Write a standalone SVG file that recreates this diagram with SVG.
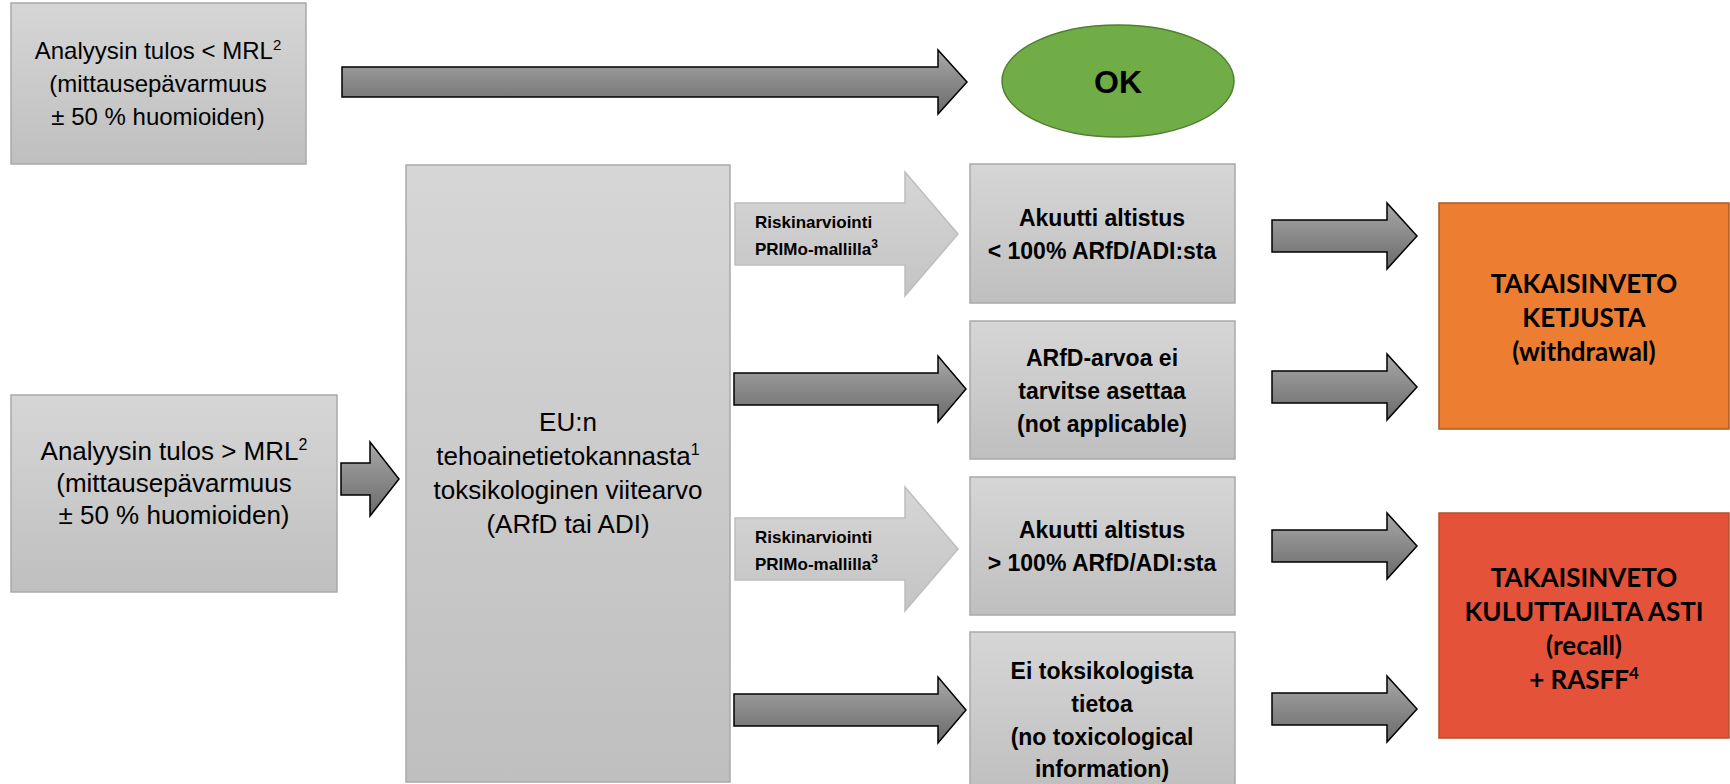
<svg xmlns="http://www.w3.org/2000/svg" width="1730" height="784" viewBox="0 0 1730 784">
<defs>
<linearGradient id="gBox" x1="0" y1="0" x2="0" y2="1"><stop offset="0" stop-color="#d6d6d6"/><stop offset="1" stop-color="#bfbfbf"/></linearGradient>
<linearGradient id="gDark" x1="0" y1="0" x2="0" y2="1"><stop offset="0" stop-color="#a8a8a8"/><stop offset="1" stop-color="#6a6a6a"/></linearGradient>
<linearGradient id="gLight" x1="0" y1="0" x2="0" y2="1"><stop offset="0" stop-color="#d6d6d6"/><stop offset="1" stop-color="#c4c4c4"/></linearGradient>
<style>
.box{fill:url(#gBox);stroke:#a9a9a9;stroke-width:1.5}
.dark{fill:url(#gDark);stroke:#000;stroke-width:1.5;stroke-linejoin:miter}
.light{fill:url(#gLight);stroke:#bdbdbd;stroke-width:1.5}
.reg{font-family:"Liberation Sans",Arial,sans-serif;font-size:26px;fill:#000;text-anchor:middle}
.bold{font-family:"Liberation Sans",Arial,sans-serif;font-size:23px;font-weight:bold;fill:#000;text-anchor:middle}
.lbl{font-family:"Liberation Sans",Arial,sans-serif;font-size:17px;font-weight:bold;fill:#000}
.big{font-family:Lato,"Liberation Sans",sans-serif;font-size:26px;font-weight:bold;fill:#000;text-anchor:middle}
.ok{font-family:"Liberation Sans",Arial,sans-serif;font-size:32px;font-weight:bold;fill:#000;text-anchor:middle}
</style>
</defs>
<rect width="1730" height="784" fill="#fff"/>

<g id="connectors">
<path class="dark" d="M342,67 L938,67 L938,50 L967,82 L938,114 L938,97 L342,97 Z"/>
<path class="dark" d="M341,463 L370,463 L370,442 L399,479 L370,516 L370,495 L341,495 Z"/>
<g id="c-risk1">
<path class="light" d="M735,203 L905,203 L905,172 L958,234 L905,296 L905,265 L735,265 Z"/>
<text class="lbl" x="755" y="228">Riskinarviointi</text>
<text class="lbl" x="755" y="255">PRIMo-mallilla<tspan font-size="12" dy="-7">3</tspan></text>
</g>
<path class="dark" d="M734,373 L938,373 L938,356 L966,389 L938,422 L938,405 L734,405 Z"/>
<g id="c-risk2">
<path class="light" d="M735,518 L905,518 L905,487 L958,549 L905,611 L905,580 L735,580 Z"/>
<text class="lbl" x="755" y="543">Riskinarviointi</text>
<text class="lbl" x="755" y="570">PRIMo-mallilla<tspan font-size="12" dy="-7">3</tspan></text>
</g>
<path class="dark" d="M734,694 L938,694 L938,677 L966,710 L938,743 L938,726 L734,726 Z"/>
<path class="dark" d="M1272,220 L1387,220 L1387,203 L1417,236 L1387,269 L1387,252 L1272,252 Z"/>
<path class="dark" d="M1272,371 L1387,371 L1387,354 L1417,387 L1387,420 L1387,403 L1272,403 Z"/>
<path class="dark" d="M1272,530 L1387,530 L1387,513 L1417,546 L1387,579 L1387,562 L1272,562 Z"/>
<path class="dark" d="M1272,693 L1387,693 L1387,676 L1417,709 L1387,742 L1387,725 L1272,725 Z"/>
</g>

<g id="n-result-low">
<rect class="box" x="11" y="3" width="295" height="161"/>
<text class="reg" x="158" y="59" font-size="24" style="font-size:24px">Analyysin tulos &lt; MRL<tspan font-size="15" dy="-9">2</tspan></text>
<text class="reg" x="158" y="92" style="font-size:24px">(mittausepävarmuus</text>
<text class="reg" x="158" y="125" style="font-size:24px">± 50 % huomioiden)</text>
</g>

<g id="n-ok">
<ellipse cx="1118" cy="81" rx="116" ry="56" fill="#70ad47" stroke="#507e32" stroke-width="1.5"/>
<text class="ok" x="1118" y="93">OK</text>
</g>

<g id="n-result-high">
<rect class="box" x="11" y="395" width="326" height="197"/>
<text class="reg" x="174" y="460">Analyysin tulos &gt; MRL<tspan font-size="16" dy="-10">2</tspan></text>
<text class="reg" x="174" y="492">(mittausepävarmuus</text>
<text class="reg" x="174" y="524">± 50 % huomioiden)</text>
</g>

<g id="n-eu">
<rect class="box" x="406" y="165" width="324" height="617"/>
<text class="reg" x="568" y="431">EU:n</text>
<text class="reg" x="568" y="465">tehoainetietokannasta<tspan font-size="16" dy="-10">1</tspan></text>
<text class="reg" x="568" y="499">toksikologinen viitearvo</text>
<text class="reg" x="568" y="533">(ARfD tai ADI)</text>
</g>

<g id="n-acute-low">
<rect class="box" x="970" y="164" width="265" height="139"/>
<text class="bold" x="1102" y="226">Akuutti altistus</text>
<text class="bold" x="1102" y="259">&lt; 100% ARfD/ADI:sta</text>
</g>

<g id="n-arfd-na">
<rect class="box" x="970" y="321" width="265" height="138"/>
<text class="bold" x="1102" y="366">ARfD-arvoa ei</text>
<text class="bold" x="1102" y="399">tarvitse asettaa</text>
<text class="bold" x="1102" y="432">(not applicable)</text>
</g>

<g id="n-acute-high">
<rect class="box" x="970" y="477" width="265" height="138"/>
<text class="bold" x="1102" y="538">Akuutti altistus</text>
<text class="bold" x="1102" y="571">&gt; 100% ARfD/ADI:sta</text>
</g>

<g id="n-no-tox">
<rect class="box" x="970" y="632" width="265" height="160"/>
<text class="bold" x="1102" y="679">Ei toksikologista</text>
<text class="bold" x="1102" y="712">tietoa</text>
<text class="bold" x="1102" y="745">(no toxicological</text>
<text class="bold" x="1102" y="777">information)</text>
</g>

<g id="n-withdrawal">
<rect x="1439" y="203" width="290" height="226" fill="#ed7d31" stroke="#ae5a21" stroke-width="1.5"/>
<text class="big" x="1584" y="293">TAKAISINVETO</text>
<text class="big" x="1584" y="327">KETJUSTA</text>
<text class="big" x="1584" y="361">(withdrawal)</text>
</g>

<g id="n-recall">
<rect x="1439" y="513" width="290" height="225" fill="#e5523a" stroke="#b5502a" stroke-width="1.5"/>
<text class="big" x="1584" y="587">TAKAISINVETO</text>
<text class="big" x="1584" y="621">KULUTTAJILTA ASTI</text>
<text class="big" x="1584" y="655">(recall)</text>
<text class="big" x="1584" y="689">+ RASFF<tspan font-size="17" dy="-10">4</tspan></text>
</g>
</svg>
